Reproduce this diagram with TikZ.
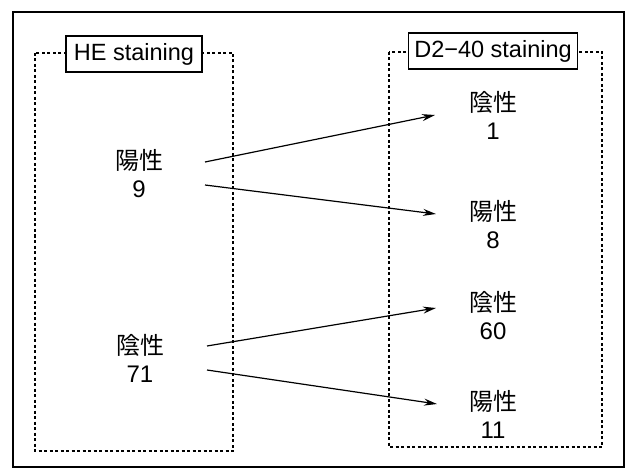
\documentclass[tikz,border=0pt]{standalone}
\usepackage{fontspec}
\setmainfont{Liberation Sans}
\newfontfamily\jp{Noto Sans CJK JP}
\usetikzlibrary{arrows.meta}
\newcommand{\jpw}[1]{{\jp #1}}
\begin{document}
\begin{tikzpicture}[x=1pt,y=-1pt,
  frame/.style={line width=1.5pt},
  group/.style={draw, line width=1.1pt, dash pattern=on 3pt off 2.5pt},
  title/.style={draw, fill=white, line width=1.2pt, font=\fontsize{23.5}{26}\selectfont, inner sep=0pt, minimum height=36pt},
  val/.style={align=center, font=\fontsize{24}{28}\selectfont, inner sep=0pt},
  link/.style={line width=1.2pt, -{Stealth[length=13pt,width=7pt]}}]
\useasboundingbox (0,0) rectangle (627,476);
\draw[frame] (13,12) rectangle (624,467);
\draw[group] (35,53) rectangle (233,451);
\draw[group] (389,52) rectangle (602,447);
\node[title, minimum width=136pt] (he) at (134,54) {HE staining};
\node[title, minimum width=169pt] (d2) at (493,51) {D2−40 staining};
\node[val] (hpos) at (139,174) {\jpw{陽性}\\9};
\node[val] (hneg) at (140,358) {\jpw{陰性}\\71};
\node[val] (dneg1) at (493,115) {\jpw{陰性}\\1};
\node[val] (dpos1) at (493,225) {\jpw{陽性}\\8};
\node[val] (dneg2) at (493,316) {\jpw{陰性}\\60};
\node[val] (dpos2) at (493,414) {\jpw{陽性}\\11};
\coordinate (s1) at (205,162);
\coordinate (e1) at (435,115);
\coordinate (s2) at (205,185);
\coordinate (e2) at (436,214);
\coordinate (s3) at (207,346);
\coordinate (e3) at (436,308);
\coordinate (s4) at (207,370);
\coordinate (e4) at (437,404);
\draw[link] (s1) -- (e1);
\draw[link] (s2) -- (e2);
\draw[link] (s3) -- (e3);
\draw[link] (s4) -- (e4);
\end{tikzpicture}
\end{document}
